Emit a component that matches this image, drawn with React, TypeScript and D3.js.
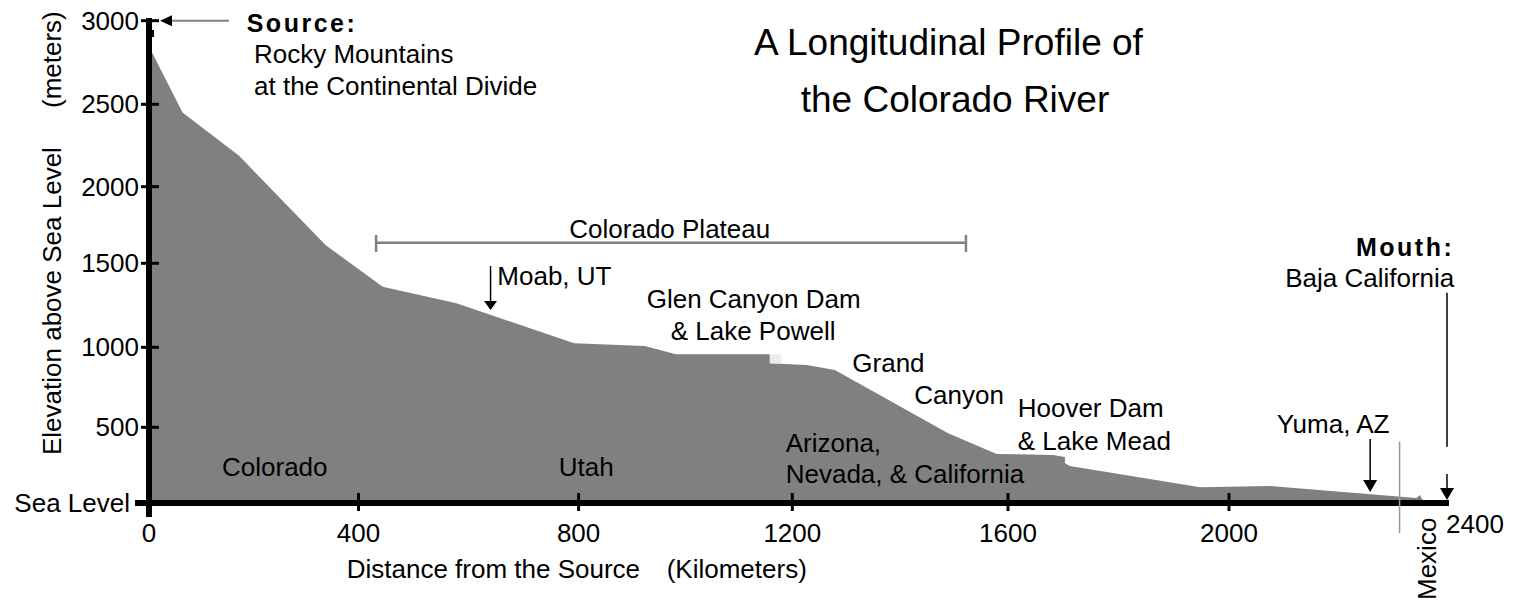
import React from 'react';
import * as d3 from 'd3';

// Profile of the river: distance from source (km) and elevation (m)
const distanceKm = [0, 64, 172, 337, 444, 578, 792, 924, 982, 1158, 1158, 1227, 1279, 1489, 1579, 1681, 1703, 1703, 1712, 1948, 2075, 2344, 2350, 2359];
const elevationM = [2845, 2450, 2188, 1619, 1361, 1262, 1024, 1008, 956, 956, 900, 889, 858, 460, 324, 317, 304, 262, 244, 104, 112, 33, 53, 0];

// Glen Canyon dam face (light patch)
const damKm = [1158, 1179];
const damElev = [900, 956];

const xTicks = [0, 400, 800, 1200, 1600, 2000];
const xTickLabels = ['0', '400', '800', '1200', '1600', '2000'];
const yTicks = [0, 500, 1000, 1500, 2000, 2500, 3000];
const yTickLabels = ['Sea Level', '500', '1000', '1500', '2000', '2500', '3000'];

const plateauKm = [432, 1522];
const moabKm = 640;
const yumaKm = 2259;
const mexicoKm = 2313;
const mouthKm = 2400;

const FONT = "'Liberation Sans', Arial, Helvetica, sans-serif";

const x = d3.scaleLinear()
  .domain([0, 400, 800, 1200, 1600, 2000, 2400])
  .range([149, 358.5, 578.6, 792.3, 1008, 1229, 1447]);
const y = d3.scaleLinear()
  .domain([0, 500, 1000, 1500, 2000, 2500, 3000])
  .range([503, 427.3, 347.3, 263.3, 186.7, 104.3, 20.7]);

const profile = distanceKm.map((d, i) => ({ km: d, m: elevationM[i] }));
const area = d3.area<{ km: number; m: number }>()
  .x(d => x(d.km))
  .y0(y(0))
  .y1(d => y(d.m));

function DownArrow({ cx, y1, y2, w = 14, h = 12 }: { cx: number; y1: number; y2: number; w?: number; h?: number }) {
  return (
    <g>
      <line x1={cx} x2={cx} y1={y1} y2={y2 - h + 1} stroke="#000" strokeWidth={1.5} />
      <path d={`M${cx - w / 2},${y2 - h} L${cx + w / 2},${y2 - h} L${cx},${y2} Z`} fill="#000" />
    </g>
  );
}

export default function App() {
  const t = { fontFamily: FONT, fontSize: 26, fill: '#000' } as const;
  const y0 = y(0);
  return (
    <svg width={1513} height={602} style={{ position: 'absolute', left: 0, top: 0, background: '#fff' }}>
      {/* profile */}
      <path d={area(profile) || ''} fill="#808080" />
      <rect x={x(damKm[0])} width={x(damKm[1]) - x(damKm[0])} y={y(damElev[1])} height={y(damElev[0]) - y(damElev[1])} fill="#ececec" />

      {/* y axis */}
      <line x1={149} x2={149} y1={18} y2={517} stroke="#000" strokeWidth={6} />
      <rect x={149} y={30} width={5} height={7} fill="#000" />
      {yTicks.map((v, i) => (
        <g key={v}>
          <line x1={i === 0 ? 135 : 141} x2={i === 0 ? 149 : 159} y1={y(v)} y2={y(v)} stroke="#000" strokeWidth={i === 0 ? 6 : 3} />
          <text x={i === 0 ? 130 : 139} y={y(v) + 9} textAnchor="end" {...t}>{yTickLabels[i]}</text>
        </g>
      ))}
      {/* x axis */}
      <line x1={135} x2={x(2400) + 2} y1={y0} y2={y0} stroke="#000" strokeWidth={6} />
      {xTicks.map((v, i) => (
        <g key={v}>
          {i > 0 && <line x1={x(v)} x2={x(v)} y1={493} y2={511} stroke="#000" strokeWidth={3} />}
          <text x={x(v)} y={541.7} textAnchor="middle" {...t}>{xTickLabels[i]}</text>
        </g>
      ))}
      <text x={1446} y={532.7} {...t}>2400</text>

      {/* axis titles */}
      <text x={346.7} y={578} {...t}>Distance from the Source</text>
      <text x={666.7} y={578} {...t}>(Kilometers)</text>
      <text transform="translate(61,455) rotate(-90)" {...t}>Elevation above Sea Level</text>
      <text transform="translate(61,108) rotate(-90)" {...t}>(meters)</text>

      {/* title */}
      <text x={948.5} y={55} textAnchor="middle" {...t} fontSize={37}>A Longitudinal Profile of</text>
      <text x={955} y={112} textAnchor="middle" {...t} fontSize={37}>the Colorado River</text>

      {/* source */}
      <line x1={229} x2={170} y1={y(3000)} y2={y(3000)} stroke="#808080" strokeWidth={2} />
      <path d={`M160,${y(3000)} L172,${y(3000) - 5.5} L172,${y(3000) + 5.5} Z`} fill="#000" />
      <text x={246.7} y={31.7} {...t} fontSize={25} fontWeight="bold" letterSpacing={2.5}>Source:</text>
      <text x={254} y={63.3} {...t}>Rocky Mountains</text>
      <text x={254} y={95} {...t}>at the Continental Divide</text>

      {/* Colorado Plateau bracket */}
      <line x1={x(plateauKm[0])} x2={x(plateauKm[1])} y1={242.7} y2={242.7} stroke="#808080" strokeWidth={2.5} />
      <line x1={x(plateauKm[0])} x2={x(plateauKm[0])} y1={235} y2={252} stroke="#808080" strokeWidth={2.5} />
      <line x1={x(plateauKm[1])} x2={x(plateauKm[1])} y1={235} y2={252} stroke="#808080" strokeWidth={2.5} />
      <text x={569.3} y={238.3} {...t}>Colorado Plateau</text>

      {/* Moab */}
      <DownArrow cx={x(moabKm)} y1={266} y2={310} w={13} h={9} />
      <text x={497.3} y={285} {...t}>Moab, UT</text>

      {/* Glen Canyon */}
      <text x={646.7} y={308.3} {...t}>Glen Canyon Dam</text>
      <text x={670.7} y={340} {...t}>&amp; Lake Powell</text>
      <text x={852.3} y={371.7} {...t}>Grand</text>
      <text x={914.3} y={404.3} {...t}>Canyon</text>
      <text x={1017.7} y={417} {...t}>Hoover Dam</text>
      <text x={1017.7} y={450} {...t}>&amp; Lake Mead</text>

      {/* states */}
      <text x={222} y={476} {...t}>Colorado</text>
      <text x={558.7} y={476} {...t}>Utah</text>
      <text x={785.7} y={451.7} {...t}>Arizona,</text>
      <text x={785.7} y={483.3} {...t}>Nevada, &amp; California</text>

      {/* Yuma */}
      <text x={1276.7} y={433.3} {...t}>Yuma, AZ</text>
      <DownArrow cx={x(yumaKm)} y1={439} y2={492} />

      {/* Mexico */}
      <line x1={x(mexicoKm)} x2={x(mexicoKm)} y1={441.7} y2={533} stroke="#999" strokeWidth={1.5} />
      <text transform="translate(1436,600) rotate(-90)" {...t}>Mexico</text>

      {/* Mouth */}
      <text x={1454.3} y={255.5} textAnchor="end" {...t} fontSize={25} fontWeight="bold" letterSpacing={2.5}>Mouth:</text>
      <text x={1454.3} y={286.7} textAnchor="end" {...t}>Baja California</text>
      <line x1={x(mouthKm)} x2={x(mouthKm)} y1={292.7} y2={446.7} stroke="#000" strokeWidth={1.5} />
      <DownArrow cx={x(mouthKm)} y1={474} y2={500} />
    </svg>
  );
}
